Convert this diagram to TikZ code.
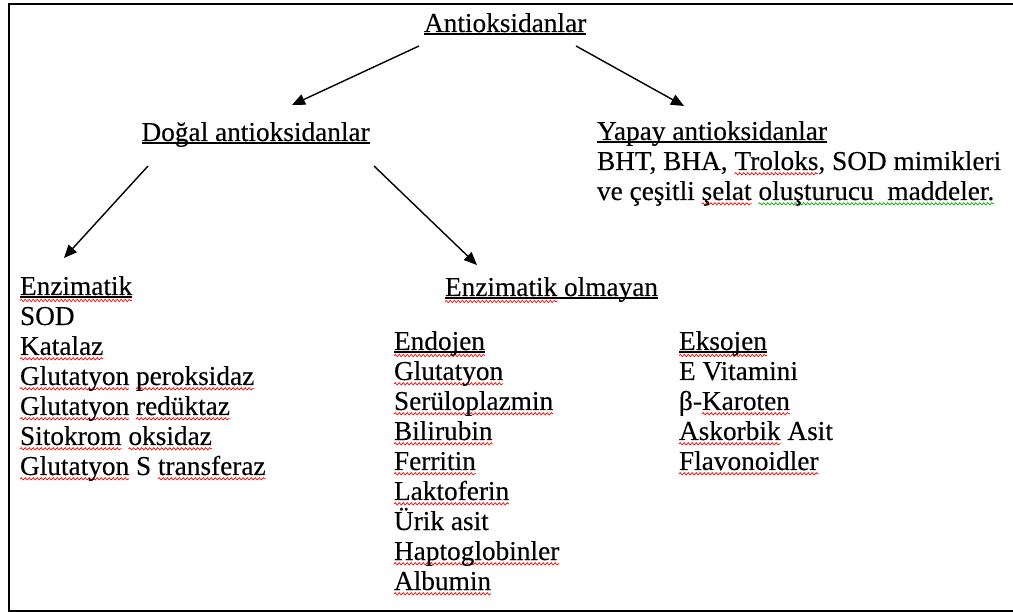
\documentclass[tikz,border=0pt]{standalone}
\usepackage{fontspec}
\setmainfont{Liberation Serif}[UprightFeatures={FakeBold=0.25}]
\usetikzlibrary{arrows.meta,decorations.pathmorphing}
\newsavebox\wvbox
\newcommand\wv[3]{%
  \begingroup
  \sbox\wvbox{#3}%
  \edef\wvw{\the\wd\wvbox}%
  \rlap{\raisebox{-#2}{\tikz[x=1pt,y=1pt,baseline=0pt]{\useasboundingbox (0,0);
    \draw[#1,line width=0.7pt,decorate,decoration={snake,amplitude=1.1pt,segment length=4pt}] (0,0) -- (\wvw,0);}}}%
  \usebox\wvbox
  \endgroup}
\newcommand\rw[1]{\wv{red}{3.8pt}{#1}}
\newcommand\rwd[1]{\wv{red}{5.5pt}{#1}}
\newcommand\gw[1]{\wv{green!70!black}{3.8pt}{#1}}
\begin{document}
\begin{tikzpicture}[x=1pt,y=-1pt,
  txt/.style={anchor=base west,inner sep=0pt,outer sep=0pt,font=\fontsize{27.3}{30}\selectfont},
  ul/.style={line width=1.4pt},
  arr/.style={line width=1.4pt,-{Triangle[length=13pt,width=11pt]}},
  frame/.style={line width=2pt}]
\useasboundingbox (0,0) rectangle (1013,612);
\draw[frame] (1014,3.8) -- (8.8,3.8) -- (8.8,610.8) -- (1014,610.8);

\node[txt] (root) at (424,32) {Antioksidanlar};
\node[txt] (dogal) at (141.5,141) {Doğal antioksidanlar};
\node[txt] (yapay) at (597,140) {Yapay antioksidanlar};
\node[txt] (yapay1) at (597,170) {BHT, BHA, \rw{Troloks}, SOD mimikleri};
\node[txt] (yapay2) at (597,200) {ve çeşitli \rw{şelat} \gw{oluşturucu\ \ maddeler.}};

\node[txt] (enz) at (20,295) {\rwd{Enzimatik}};
\node[txt] (enz1) at (20,325) {SOD};
\node[txt] (enz2) at (20,355) {\rw{Katalaz}};
\node[txt] (enz3) at (20,385) {\rw{Glutatyon} \rw{peroksidaz}};
\node[txt] (enz4) at (20,415) {\rw{Glutatyon} \rw{redüktaz}};
\node[txt] (enz5) at (20,445) {\rw{Sitokrom} \rw{oksidaz}};
\node[txt] (enz6) at (20,475) {\rw{Glutatyon} S \rw{transferaz}};

\node[txt] (nonenz) at (445,296) {\rwd{Enzimatik} olmayan};

\node[txt] (endo) at (394,350) {\rwd{Endojen}};
\node[txt] (endo1) at (394,380) {\rw{Glutatyon}};
\node[txt] (endo2) at (394,410) {\rw{Serüloplazmin}};
\node[txt] (endo3) at (394,440) {\rw{Bilirubin}};
\node[txt] (endo4) at (394,470) {\rw{Ferritin}};
\node[txt] (endo5) at (394,500) {\rw{Laktoferin}};
\node[txt] (endo6) at (394,530) {Ürik asit};
\node[txt] (endo7) at (394,560) {\rw{Haptoglobinler}};
\node[txt] (endo8) at (394,590) {\rw{Albumin}};

\node[txt] (ekso) at (679,350) {\rwd{Eksojen}};
\node[txt] (ekso1) at (679,380) {E Vitamini};
\node[txt] (ekso2) at (679,410) {β-\rw{Karoten}};
\node[txt] (ekso3) at (679,440) {\rw{Askorbik} Asit};
\node[txt] (ekso4) at (679,470) {\rw{Flavonoidler}};

\foreach \n in {root,dogal,yapay,enz,nonenz,endo,ekso}
  \draw[ul] ([yshift=-2pt]\n.base west) -- ([yshift=-2pt]\n.base east);

\coordinate (rootL) at (419,46);
\coordinate (dogalT) at (292,105);
\coordinate (rootR) at (576,46);
\coordinate (yapayT) at (684,106);
\coordinate (dogalL) at (148,166);
\coordinate (enzT) at (64,258);
\coordinate (dogalR) at (374,166);
\coordinate (nonenzT) at (477,265);
\draw[arr] (rootL) -- (dogalT);
\draw[arr] (rootR) -- (yapayT);
\draw[arr] (dogalL) -- (enzT);
\draw[arr] (dogalR) -- (nonenzT);
\end{tikzpicture}
\end{document}
